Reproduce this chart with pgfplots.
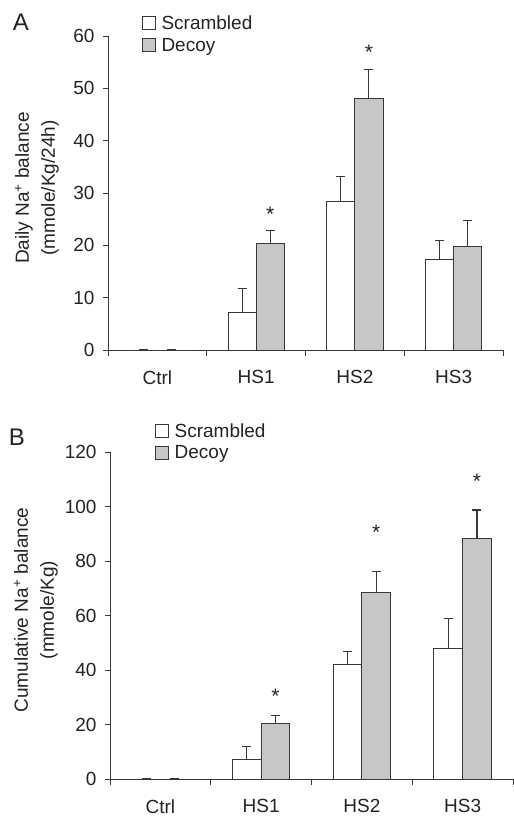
\documentclass[border=0pt]{standalone}
\usepackage{pgfplots}
\pgfplotsset{compat=1.18}
\usepackage{pgfplotstable}
\usepackage{fontspec}
\setmainfont{Liberation Sans}

\definecolor{decoyfill}{RGB}{198,199,201}
\definecolor{edge}{RGB}{55,55,55}
\definecolor{ink}{RGB}{35,35,35}

% daily balance (panel A): mean and SE for scrambled (s) and decoy (d)
\pgfplotstableread{
x s    se  d    de
0 0    0   0    0
1 7.2  4.6 20.4 2.5
2 28.3 4.9 48.1 5.5
3 17.3 3.6 19.8 5.0
}\dailytab

% cumulative balance (panel B)
\pgfplotstableread{
x s    se   d    de
0 0    0    0    0
1 7.2  4.7  20.3 3.1
2 41.9 4.9  68.6 7.6
3 48.0 11.0 88.5 10.3
}\cumtab

\newcommand{\lbl}{\fontsize{19}{23}\selectfont}

\pgfplotsset{
  panel/.style={
    scale only axis,
    axis lines*=left,
    axis line style={edge, line width=0.9pt},
    clip=false,
    xmin=-0.5, xmax=3.5,
    xtick={0,1,2,3},
    xticklabels={Ctrl,HS1,HS2,HS3},
    minor xtick={-0.5,0.5,1.5,2.5,3.5},
    major x tick style={draw=none},
    tick style={edge, line width=0.9pt},
    tick align=outside,
    major tick length=5pt,
    minor tick length=6pt,
    ymin=0,
    tick label style={font=\lbl, text=ink},
    xticklabel style={yshift=-12pt},
    yticklabel style={xshift=-5pt},
    /pgf/number format/assume math mode=true,
    label style={font=\lbl, text=ink, align=center},
    legend cell align=left,
    legend style={draw=none, fill=none, font=\lbl, text=ink,
      anchor=north west, inner sep=0pt, row sep=4pt,
      nodes={inner sep=1.5pt}},
    legend image code/.code={
      \draw[##1, line width=0.8pt] (0pt,-6.5pt) rectangle (13pt,6.5pt);
      \path (17pt,0pt);},
  },
  bars/.style={ybar, bar width=0.285, bar shift=0,
    draw=edge, line width=0.9pt,
    error bars/.cd, y dir=plus, y explicit,
    error bar style={edge, line width=1.1pt},
    error mark options={edge, line width=1.1pt, mark size=4.5pt, rotate=90}},
  scr/.style={fill=white, bars},
  dec/.style={fill=decoyfill, bars},
  star/.style={only marks, mark=text, text mark={*},
    text mark as node=true,
    text mark style={font=\fontsize{21}{21}\selectfont, text=ink, anchor=center}},
}

\begin{document}
\begin{tikzpicture}
\path[use as bounding box] (0,0) rectangle (514pt,-817pt);

\node[font=\fontsize{24}{24}\selectfont, text=ink] at (21pt,-22pt) {A};
\node[font=\fontsize{24}{24}\selectfont, text=ink] at (17pt,-437pt) {B};

% Panel A
\begin{axis}[panel,
    width=395pt, height=314pt,
    at={(108pt,-350pt)}, anchor=south west,
    ymax=60, ytick={0,10,...,60},
    ylabel={Daily Na\textsuperscript{+} balance\\[3pt](mmole/Kg/24h)},
    ylabel style={at={(axis description cs:-0.18,0.516)}, anchor=center, rotate=0},
    legend style={at={(axis description cs:0.086,1.07)}},
]
\addplot[scr] table[x expr=\thisrow{x}-0.1425, y=s, y error=se] {\dailytab};
\addlegendentry{Scrambled}
\addplot[dec] table[x expr=\thisrow{x}+0.1425, y=d, y error=de] {\dailytab};
\addlegendentry{Decoy}
\addplot[star, forget plot] coordinates {(1.1425,25.9) (2.1425,56.9)};
\end{axis}

% Panel B
\begin{axis}[panel,
    width=403pt, height=326.7pt,
    at={(110pt,-779pt)}, anchor=south west,
    ymax=120, ytick={0,20,...,120},
    ylabel={Cumulative Na\textsuperscript{+} balance\\[3pt](mmole/Kg)},
    ylabel style={at={(axis description cs:-0.184,0.517)}, anchor=center, rotate=0},
    legend style={at={(axis description cs:0.112,1.093)}},
]
\addplot[scr] table[x expr=\thisrow{x}-0.1425, y=s, y error=se] {\cumtab};
\addlegendentry{Scrambled}
\addplot[dec] table[x expr=\thisrow{x}+0.1425, y=d, y error=de] {\cumtab};
\addlegendentry{Decoy}
\addplot[star, forget plot] coordinates {(1.1425,30.3) (2.1425,90.7) (3.1425,109.4)};
\end{axis}
\end{tikzpicture}
\end{document}
